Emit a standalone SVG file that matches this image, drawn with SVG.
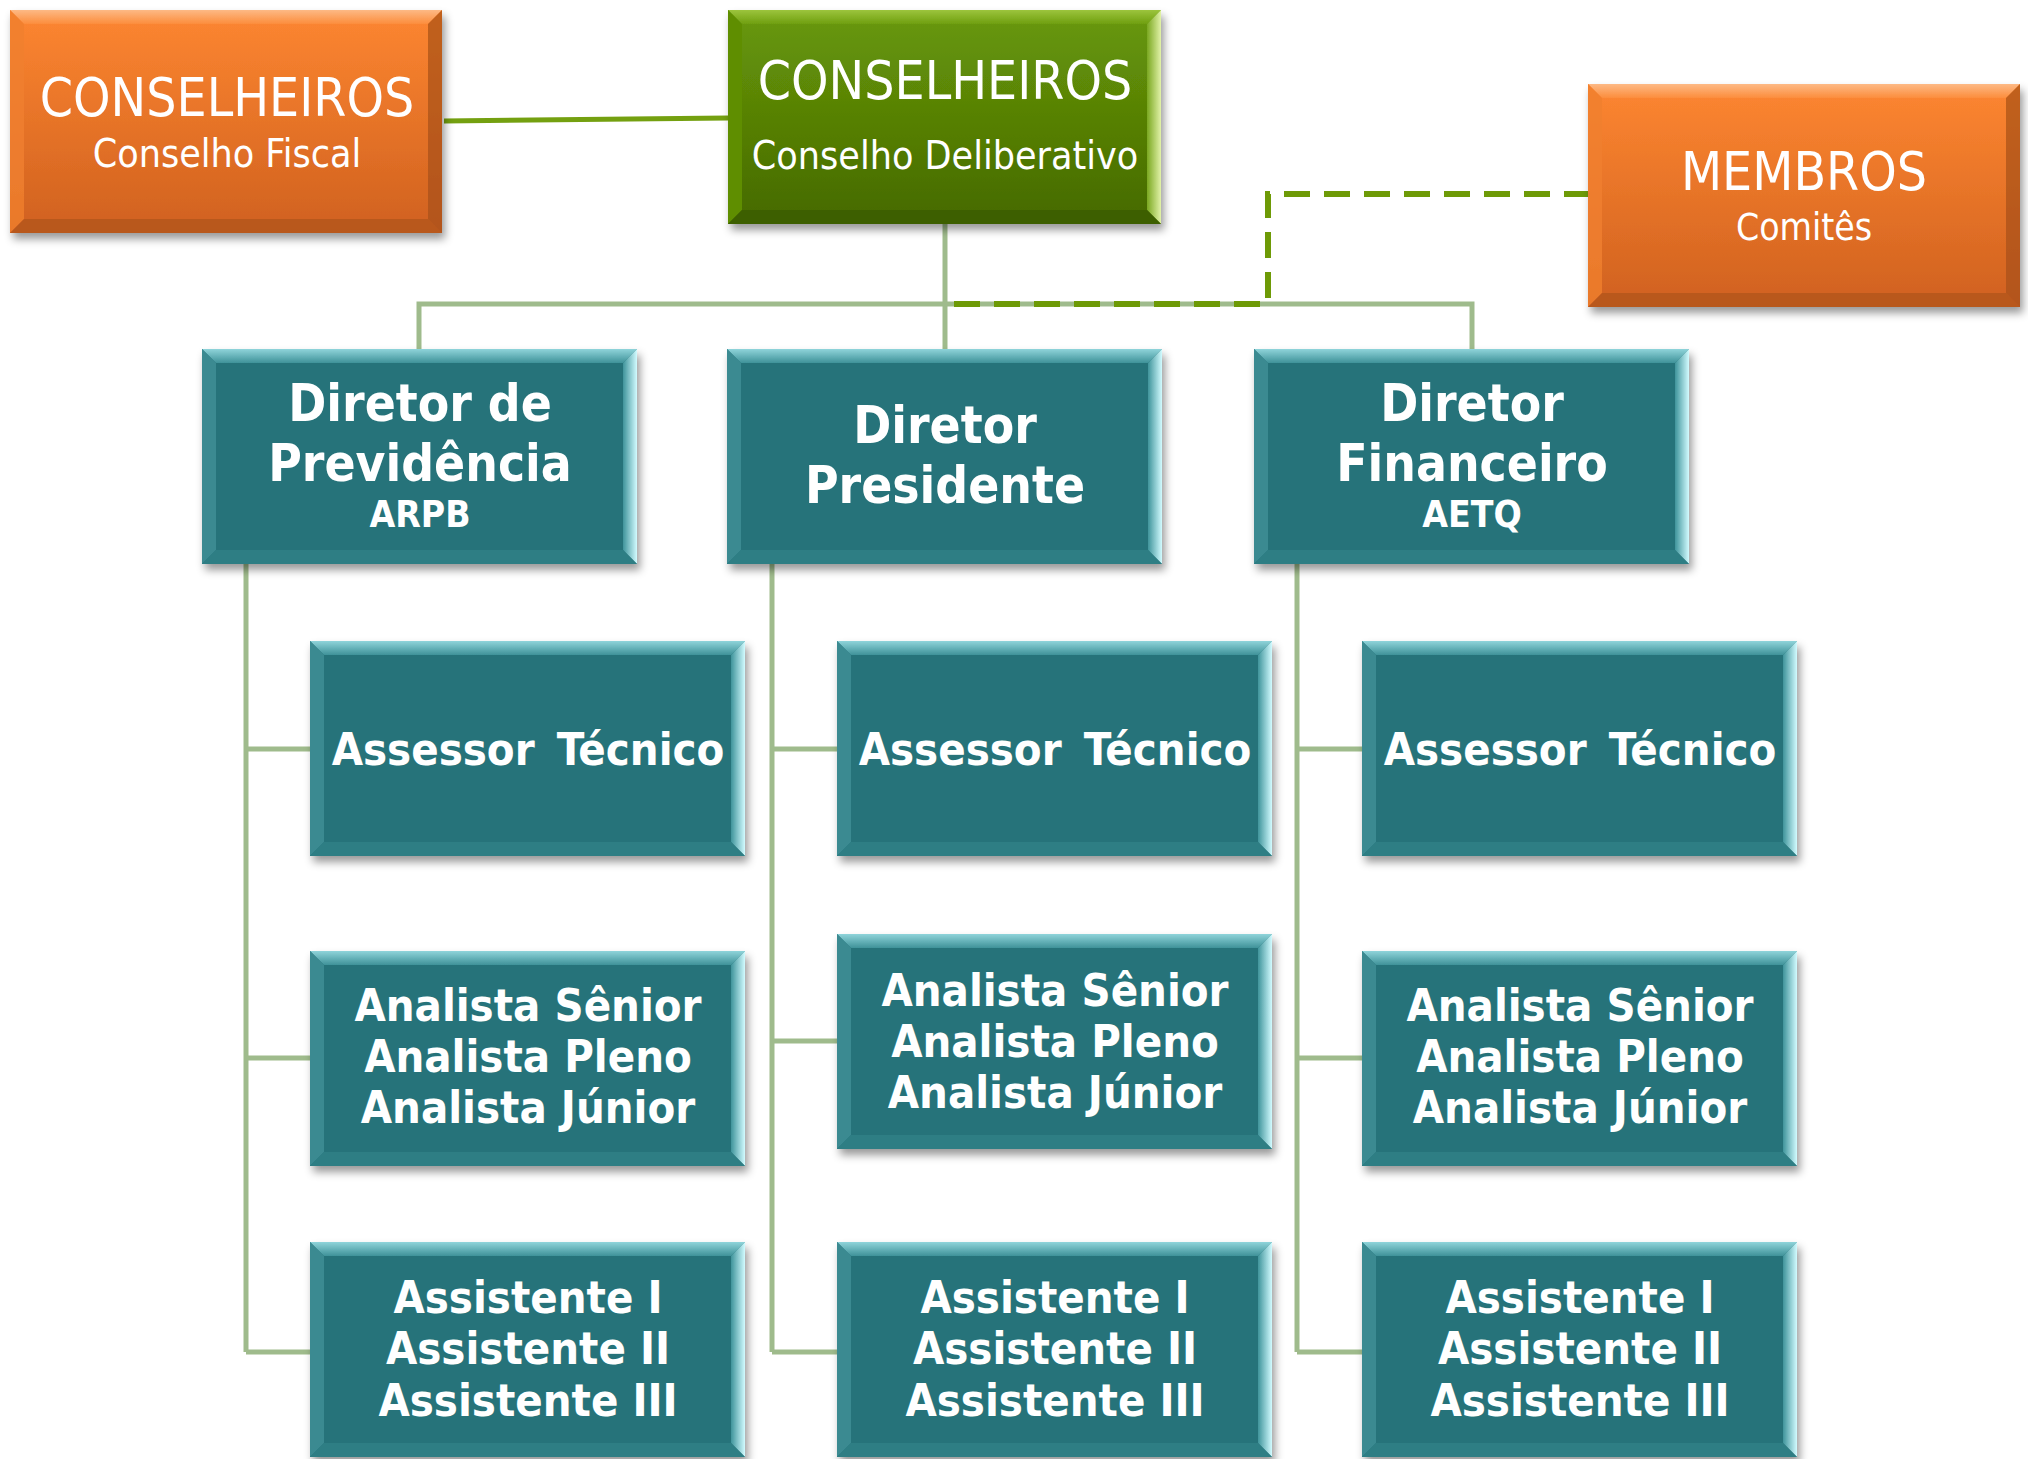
<svg xmlns="http://www.w3.org/2000/svg" xmlns:xlink="http://www.w3.org/1999/xlink" width="2028" height="1459" viewBox="0 0 2028 1459">
<style>
.t{fill:#fff;font-family:"DejaVu Sans Condensed","DejaVu Sans",sans-serif;font-stretch:condensed;text-anchor:middle}
.b{font-weight:bold}
.h1{font-size:53px}
.h2{font-size:39px}
.h3{font-size:37px}
.d{font-size:51px;font-weight:bold}
.s{font-size:45px;font-weight:bold}
.tree{stroke:#9fbb8c;stroke-width:5;fill:none}
</style>
<defs>
<filter id="sh" x="-10%" y="-10%" width="125%" height="130%">
<feDropShadow dx="3" dy="6" stdDeviation="4" flood-color="#000" flood-opacity="0.4"/>
</filter>
<linearGradient id="tealTop" x1="0" y1="0" x2="0" y2="1"><stop offset="0" stop-color="#8fd4da"/><stop offset="1" stop-color="#3f9299"/></linearGradient>
<linearGradient id="tealRight" x1="0" y1="0" x2="1" y2="0"><stop offset="0" stop-color="#3f949b"/><stop offset="1" stop-color="#d2fbff"/></linearGradient>
<linearGradient id="orBase" x1="0" y1="0" x2="0" y2="1"><stop offset="0" stop-color="#fd8631"/><stop offset="1" stop-color="#d0611f"/></linearGradient>
<linearGradient id="orTop" x1="0" y1="0" x2="0" y2="1"><stop offset="0" stop-color="#fdb985"/><stop offset="1" stop-color="#fc8d3c"/></linearGradient>
<linearGradient id="grBase" x1="0" y1="0" x2="0" y2="1"><stop offset="0" stop-color="#69990a"/><stop offset="1" stop-color="#456900"/></linearGradient>
<linearGradient id="grTop" x1="0" y1="0" x2="0" y2="1"><stop offset="0" stop-color="#9cc43c"/><stop offset="1" stop-color="#6f9f10"/></linearGradient>
<linearGradient id="grRight" x1="0" y1="0" x2="1" y2="0"><stop offset="0" stop-color="#7aa820"/><stop offset="1" stop-color="#e2f2a8"/></linearGradient>
<g id="teal">
<rect x="0" y="0" width="435" height="215" fill="#27737a"/>
<polygon points="0,0 435,0 421,14 14,14" fill="url(#tealTop)"/>
<polygon points="0,0 14,14 14,201 0,215" fill="#3a8a91"/>
<polygon points="435,0 435,215 421,201 421,14" fill="url(#tealRight)"/>
<polygon points="0,215 14,201 421,201 435,215" fill="#2f7e84"/>
</g>
<g id="orange">
<rect x="0" y="0" width="432" height="223" fill="url(#orBase)"/>
<polygon points="0,0 432,0 418,14 14,14" fill="url(#orTop)"/>
<polygon points="0,0 14,14 14,209 0,223" fill="#f07f30" opacity="0.8"/>
<polygon points="432,0 432,223 418,209 418,14" fill="#a65018" opacity="0.7"/>
<polygon points="0,223 14,209 418,209 432,223" fill="#a9521a" opacity="0.6"/>
</g>
</defs>
<g id="connectors">
<line x1="444" y1="121" x2="728" y2="118" stroke="#74a010" stroke-width="5"/>
<path class="tree" d="M945,224 V349 M419,349 V304 H1472 V349"/>
<path class="tree" d="M246,564 V1352 M246,749 H310 M246,1058 H310 M246,1352 H310"/>
<path class="tree" d="M772,564 V1352 M772,749 H837 M772,1041 H837 M772,1352 H837"/>
<path class="tree" d="M1297,564 V1352 M1297,749 H1362 M1297,1058 H1362 M1297,1352 H1362"/>
<path d="M1590,194 H1268 V304 H948" fill="none" stroke="#6e9a06" stroke-width="6" stroke-dasharray="26 14"/>
</g>
<g id="fiscal">
<use xlink:href="#orange" x="10" y="10" filter="url(#sh)"/>
<text class="t h1" x="227" y="116">CONSELHEIROS</text>
<text class="t h2" x="227" y="167">Conselho Fiscal</text>
</g>
<g id="deliberativo">
<g filter="url(#sh)">
<rect x="728" y="10" width="433" height="214" fill="url(#grBase)"/>
<polygon points="728,10 1161,10 1147,24 742,24" fill="url(#grTop)"/>
<polygon points="728,10 742,24 742,210 728,224" fill="#5e8e06"/>
<polygon points="1161,10 1161,224 1147,210 1147,24" fill="url(#grRight)"/>
<polygon points="728,224 742,210 1147,210 1161,224" fill="#3d5f00"/>
</g>
<text class="t h1" x="945" y="99">CONSELHEIROS</text>
<text class="t h2" x="945" y="169">Conselho Deliberativo</text>
</g>
<g id="membros">
<use xlink:href="#orange" x="1588" y="84" filter="url(#sh)"/>
<text class="t h1" x="1804" y="190">MEMBROS</text>
<text class="t h3" x="1804" y="240">Comitês</text>
</g>
<g id="dir-previdencia">
<use xlink:href="#teal" x="202" y="349" filter="url(#sh)"/>
<text class="t d" x="420" y="421">Diretor de</text>
<text class="t d" x="420" y="481">Previdência</text>
<text class="t b h3" x="420" y="527">ARPB</text>
</g>
<g id="dir-presidente">
<use xlink:href="#teal" x="727" y="349" filter="url(#sh)"/>
<text class="t d" x="945" y="443">Diretor</text>
<text class="t d" x="945" y="503">Presidente</text>
</g>
<g id="dir-financeiro">
<use xlink:href="#teal" x="1254" y="349" filter="url(#sh)"/>
<text class="t d" x="1472" y="421">Diretor</text>
<text class="t d" x="1472" y="481">Financeiro</text>
<text class="t b h3" x="1472" y="527">AETQ</text>
</g>
<g id="assessor-1">
<use xlink:href="#teal" x="310" y="641" filter="url(#sh)"/>
<text class="t s" x="528" y="765" word-spacing="8">Assessor Técnico</text>
</g>
<g id="assessor-2">
<use xlink:href="#teal" x="837" y="641" filter="url(#sh)"/>
<text class="t s" x="1055" y="765" word-spacing="8">Assessor Técnico</text>
</g>
<g id="assessor-3">
<use xlink:href="#teal" x="1362" y="641" filter="url(#sh)"/>
<text class="t s" x="1580" y="765" word-spacing="8">Assessor Técnico</text>
</g>
<g id="analista-1">
<use xlink:href="#teal" x="310" y="951" filter="url(#sh)"/>
<text class="t s" x="528" y="1021">Analista Sênior</text>
<text class="t s" x="528" y="1072">Analista Pleno</text>
<text class="t s" x="528" y="1123">Analista Júnior</text>
</g>
<g id="analista-2">
<use xlink:href="#teal" x="837" y="934" filter="url(#sh)"/>
<text class="t s" x="1055" y="1006">Analista Sênior</text>
<text class="t s" x="1055" y="1057">Analista Pleno</text>
<text class="t s" x="1055" y="1108">Analista Júnior</text>
</g>
<g id="analista-3">
<use xlink:href="#teal" x="1362" y="951" filter="url(#sh)"/>
<text class="t s" x="1580" y="1021">Analista Sênior</text>
<text class="t s" x="1580" y="1072">Analista Pleno</text>
<text class="t s" x="1580" y="1123">Analista Júnior</text>
</g>
<g id="assistente-1">
<use xlink:href="#teal" x="310" y="1242" filter="url(#sh)"/>
<text class="t s" x="528" y="1313">Assistente I</text>
<text class="t s" x="528" y="1364">Assistente II</text>
<text class="t s" x="528" y="1416">Assistente III</text>
</g>
<g id="assistente-2">
<use xlink:href="#teal" x="837" y="1242" filter="url(#sh)"/>
<text class="t s" x="1055" y="1313">Assistente I</text>
<text class="t s" x="1055" y="1364">Assistente II</text>
<text class="t s" x="1055" y="1416">Assistente III</text>
</g>
<g id="assistente-3">
<use xlink:href="#teal" x="1362" y="1242" filter="url(#sh)"/>
<text class="t s" x="1580" y="1313">Assistente I</text>
<text class="t s" x="1580" y="1364">Assistente II</text>
<text class="t s" x="1580" y="1416">Assistente III</text>
</g>
</svg>
